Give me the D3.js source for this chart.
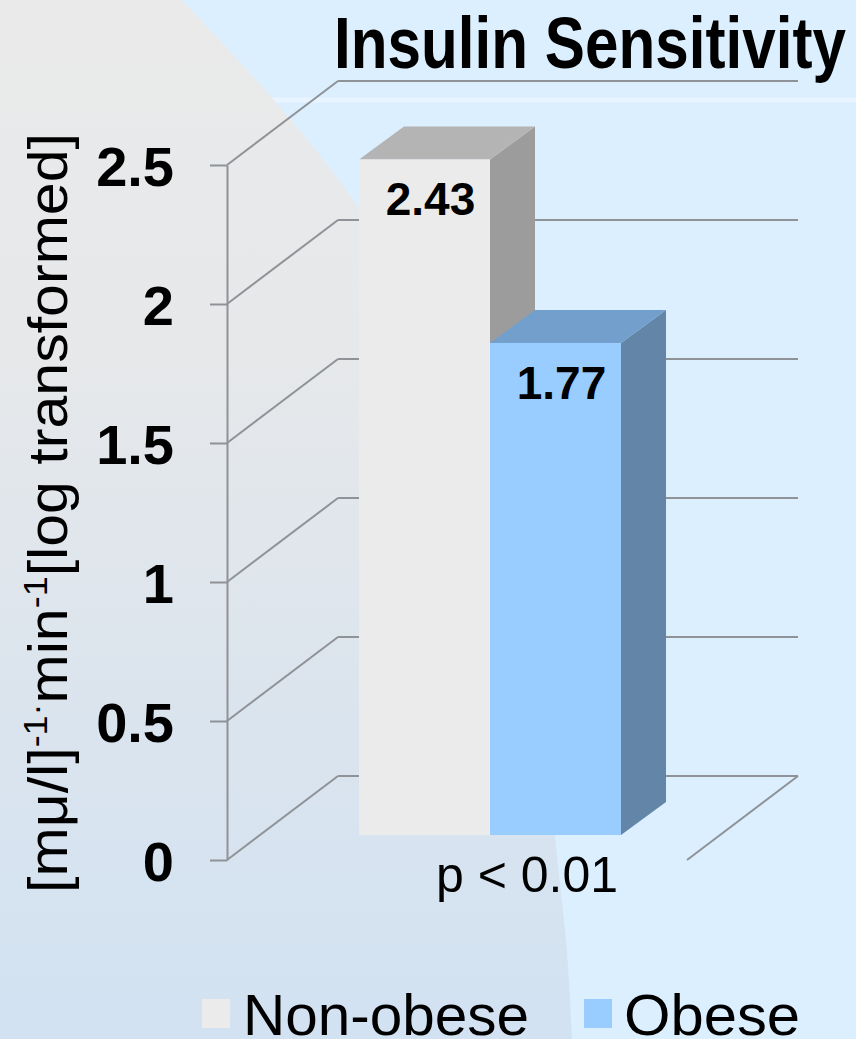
<!DOCTYPE html>
<html>
<head>
<meta charset="utf-8">
<script src="https://cdn.jsdelivr.net/npm/d3@7"></script>
<style>
  html, body { margin: 0; padding: 0; background: #dcefff; }
  svg { display: block; }
</style>
</head>
<body>
<svg id="chart" width="856" height="1039"></svg>
<script>
// ---------- data ----------
const categories = ["Non-obese", "Obese"];
const values = [2.43, 1.77];
const valueLabels = ["2.43", "1.77"];
const yTicks = [0, 0.5, 1, 1.5, 2, 2.5];
const yTickLabels = ["0", "0.5", "1", "1.5", "2", "2.5"];
const titleText = "Insulin Sensitivity";
const pText = "p < 0.01";

// ---------- styles ----------
const frontColors = ["#ebebeb", "#99ccff"];
const topColors = ["#b4b4b4", "#729fcb"];
const sideColors = ["#9c9c9c", "#6385a8"];
const gridColor = "#8f9296";

const W = 856, H = 1039;
const svg = d3.select("#chart");

// ---------- background ----------
const defs = svg.append("defs");
const g1 = defs.append("linearGradient").attr("id", "leftbg")
  .attr("x1", 0).attr("y1", 0).attr("x2", 0).attr("y2", 1);
g1.append("stop").attr("offset", "0").attr("stop-color", "#eaeaea");
g1.append("stop").attr("offset", "0.35").attr("stop-color", "#e6e8ea");
g1.append("stop").attr("offset", "0.7").attr("stop-color", "#dae4ee");
g1.append("stop").attr("offset", "1").attr("stop-color", "#d2e2f2");

svg.append("rect").attr("width", W).attr("height", H).attr("fill", "#dcefff");
svg.append("line").attr("x1", 250).attr("x2", W).attr("y1", 100).attr("y2", 100)
  .attr("stroke", "#ffffff").attr("stroke-opacity", 0.35).attr("stroke-width", 5);

const arcPts = [[182, 0], [358, 207], [472, 430], [532, 640], [555, 835], [566, 940], [572, 1039]];
const arcLine = d3.line().curve(d3.curveNatural);
svg.append("path")
  .attr("d", "M0,0 L" + arcLine(arcPts).slice(1) + " L0,1039 Z")
  .attr("fill", "url(#leftbg)");

// ---------- scales ----------
const y = d3.scaleLinear().domain([0, 2.5]).range([860, 165]);
const axisX = 227;
const wallDX = 111, wallDY = -84;      // full depth of the 3D box
const barOffX = 33, barOffY = -25;     // bars' front plane offset
const barDX = 45, barDY = -33;         // bar depth
const backRight = 798;

const x = d3.scaleBand().domain(categories).range([326, 588]).paddingInner(0).paddingOuter(0);

// ---------- grid (walls) ----------
const grid = svg.append("g").attr("stroke", gridColor).attr("stroke-width", 2).attr("fill", "none");
yTicks.forEach(v => {
  const yy = y(v);
  // left wall diagonal
  grid.append("line").attr("x1", axisX).attr("y1", yy)
    .attr("x2", axisX + wallDX).attr("y2", yy + wallDY);
  // back wall horizontal
  grid.append("line").attr("x1", axisX + wallDX).attr("y1", yy + wallDY)
    .attr("x2", backRight).attr("y2", yy + wallDY);
});
// floor right edge
grid.append("line").attr("x1", backRight).attr("y1", y(0) + wallDY)
  .attr("x2", backRight - wallDX).attr("y2", y(0));

// ---------- axis ----------
const axis = d3.axisLeft(y).tickValues(yTicks)
  .tickFormat((d, i) => yTickLabels[i])
  .tickSize(17).tickSizeOuter(0).tickPadding(36);
const axG = svg.append("g").attr("transform", `translate(${axisX},0)`).call(axis);
axG.select(".domain").attr("stroke", gridColor).attr("stroke-width", 2);
axG.selectAll(".tick line").attr("stroke", gridColor).attr("stroke-width", 2);
axG.selectAll(".tick text")
  .attr("font-family", "Liberation Sans, Arial, sans-serif")
  .attr("font-weight", "bold").attr("font-size", 56)
  .attr("fill", "#000").attr("dy", "0.36em");

// ---------- bars ----------
const bars = svg.append("g");
categories.forEach((c, i) => {
  const x0 = x(c) + barOffX, x1 = x0 + x.bandwidth();
  const yT = y(values[i]) + barOffY, yB = y(0) + barOffY;
  const g = bars.append("g");
  // side face
  g.append("path").attr("fill", sideColors[i])
    .attr("d", `M${x1},${yT} L${x1 + barDX},${yT + barDY} L${x1 + barDX},${yB + barDY} L${x1},${yB} Z`);
  // top face
  g.append("path").attr("fill", topColors[i])
    .attr("d", `M${x0},${yT} L${x0 + barDX},${yT + barDY} L${x1 + barDX},${yT + barDY} L${x1},${yT} Z`);
  // front face
  g.append("rect").attr("x", x0).attr("y", yT).attr("width", x1 - x0).attr("height", yB - yT)
    .attr("fill", frontColors[i]);
  // value label
  g.append("text").attr("x", (x0 + x1) / 2 + 6).attr("y", yT + 56)
    .attr("text-anchor", "middle")
    .attr("font-family", "Liberation Sans, Arial, sans-serif")
    .attr("font-weight", "bold").attr("font-size", 46).attr("fill", "#000")
    .text(valueLabels[i]);
});

// ---------- title ----------
svg.append("text").attr("x", 334).attr("y", 68)
  .attr("font-family", "Liberation Sans Narrow, Arial Narrow, Liberation Sans, sans-serif")
  .attr("font-weight", "bold").attr("font-size", 72).attr("fill", "#000")
  .attr("textLength", 512).attr("lengthAdjust", "spacingAndGlyphs")
  .text(titleText);

// ---------- y label ----------
const yl = svg.append("text")
  .attr("transform", "translate(67,513) rotate(-90)")
  .attr("text-anchor", "middle")
  .attr("font-family", "Liberation Sans, Arial, sans-serif")
  .attr("font-size", 56).attr("fill", "#000")
  .attr("textLength", 760).attr("lengthAdjust", "spacingAndGlyphs");
yl.append("tspan").text("[mμ/l]");
yl.append("tspan").attr("font-size", 34).attr("dy", -20).text("-1");
yl.append("tspan").attr("font-size", 34).text("·");
yl.append("tspan").attr("dy", 20).text("min");
yl.append("tspan").attr("font-size", 34).attr("dy", -20).text("-1");
yl.append("tspan").attr("dy", 20).text("[log transformed]");

// ---------- p value ----------
svg.append("text").attr("x", 527).attr("y", 892)
  .attr("text-anchor", "middle")
  .attr("font-family", "Liberation Sans, Arial, sans-serif")
  .attr("font-size", 50).attr("fill", "#000")
  .text(pText);

// ---------- legend ----------
const legX = [202, 584];
const legTextX = [243, 624];
const legW = [286, 176];
const leg = svg.append("g");
categories.forEach((c, i) => {
  leg.append("rect").attr("x", legX[i]).attr("y", 999).attr("width", 28).attr("height", 29)
    .attr("fill", frontColors[i]);
  leg.append("text").attr("x", legTextX[i]).attr("y", 1035)
    .attr("font-family", "Liberation Sans, Arial, sans-serif")
    .attr("font-size", 58).attr("fill", "#000")
    .attr("textLength", legW[i]).attr("lengthAdjust", "spacingAndGlyphs")
    .text(c);
});
</script>
</body>
</html>
